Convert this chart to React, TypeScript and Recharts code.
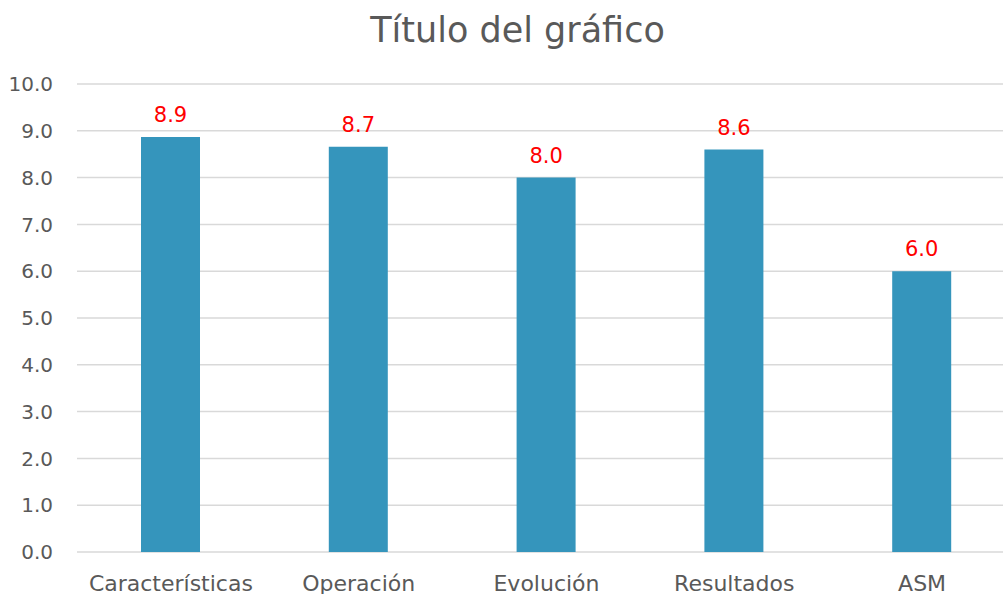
import React from 'react';
import { BarChart, Bar, XAxis, YAxis, CartesianGrid, LabelList } from 'recharts';

// categories and scores
const categories = ['Características', 'Operación', 'Evolución', 'Resultados', 'ASM'];
const scores = [8.87, 8.66, 8.0, 8.6, 6.0];
const yTicks = [0, 1, 2, 3, 4, 5, 6, 7, 8, 9, 10];

const FONT = '"DejaVu Sans", sans-serif';
const TEXT_GRAY = '#595959';
const BAR_BLUE = '#3595bc';

const data = categories.map((name, i) => ({ name, value: scores[i] }));

const App: React.FC = () => {
  return (
    <div
      style={{
        position: 'absolute',
        left: 0,
        top: 0,
        width: 1003,
        height: 594,
        overflow: 'hidden',
        background: '#fff',
        fontFamily: FONT,
      }}
    >
      {/* chart title */}
      <div
        style={{
          position: 'absolute',
          left: 0,
          width: 1035,
          top: 8,
          textAlign: 'center',
          fontSize: 35,
          color: TEXT_GRAY,
          lineHeight: '44px',
        }}
      >
        Título del gráfico
      </div>

      <BarChart
        width={1016}
        height={594}
        data={data}
        margin={{ top: 84, right: 0, bottom: 0, left: 0 }}
        barSize={59}
      >
        <CartesianGrid vertical={false} stroke="#d9d9d9" strokeWidth={1.5} />
        <XAxis
          dataKey="name"
          height={42}
          axisLine={false}
          tickLine={false}
          tickSize={0}
          tickMargin={23}
          interval={0}
          tick={{ fill: TEXT_GRAY, fontSize: 22, fontFamily: FONT }}
        />
        <YAxis
          width={77}
          domain={[0, 10]}
          ticks={yTicks}
          axisLine={false}
          tickLine={false}
          tickSize={0}
          tickMargin={24}
          tickFormatter={(v: number) => v.toFixed(1)}
          tick={{ fill: TEXT_GRAY, fontSize: 20, fontFamily: FONT }}
        />
        <Bar dataKey="value" fill={BAR_BLUE} isAnimationActive={false}>
          <LabelList
            dataKey="value"
            position="top"
            offset={15}
            formatter={(v: number) => v.toFixed(1)}
            style={{ fill: '#ff0000', fontSize: 21, fontFamily: FONT }}
          />
        </Bar>
      </BarChart>
    </div>
  );
};

export default App;
